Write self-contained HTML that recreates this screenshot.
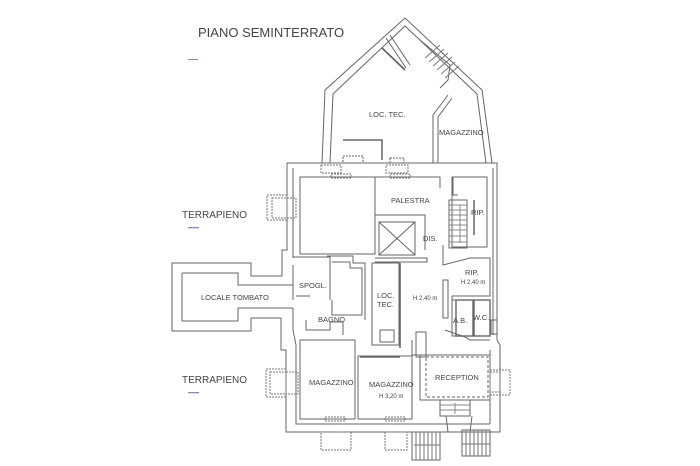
<!DOCTYPE html>
<html><head><meta charset="utf-8"><style>
html,body{margin:0;padding:0;background:#fff;width:700px;height:466px;overflow:hidden}
svg{display:block}
text{font-family:"Liberation Sans",sans-serif;fill:#444}
</style></head><body>
<svg width="700" height="466" viewBox="0 0 700 466" xmlns="http://www.w3.org/2000/svg">
<g fill="none" stroke="#666" stroke-width="1">
<polyline points="322,163 325,90 405,18 482,90 492,163"/>
<polyline points="330,163 333,94 405,26 477,94 486,163"/>
<polyline points="433,163 433,115 448,95"/>
<polyline points="438,163 438,117 452,98"/>
<line x1="386" y1="38" x2="406" y2="68"/>
<line x1="390" y1="35" x2="410" y2="65"/>
<line x1="382" y1="48" x2="405" y2="70" stroke-width="1.8"/>
<polyline points="420,40 450,65 448,80 440,88"/>
<g stroke="#777"><line x1="425" y1="58" x2="440" y2="45"/><line x1="429" y1="62" x2="444" y2="49"/><line x1="433" y1="66" x2="448" y2="53"/><line x1="437" y1="70" x2="452" y2="57"/><line x1="441" y1="74" x2="455" y2="62"/><line x1="445" y1="78" x2="459" y2="66"/></g>
<polyline points="343,140 382,140 382,160" stroke-width="1.5"/>
<rect x="343" y="156" width="20" height="7" stroke-dasharray="2,1"/>
<rect x="390" y="158" width="14" height="5" stroke-dasharray="2,1"/>
<polyline points="287,163 497,163 497,340 500,345 500,432 412,432"/>
<polyline points="287,163 287,250 282,250 282,276 251,276 251,263 172,263 172,331 251,331 251,318 281,318 281,350 286,350 286,432 412,432"/>
<polyline points="293,168 293,258"/>
<polyline points="293,265 293,300"/>
<polyline points="293,308 293,330 296,345 296,424 490,424"/>
<line x1="493" y1="168" x2="493" y2="335"/>
<line x1="490" y1="350" x2="490" y2="424"/>
<polyline points="182,273 238,273 238,285 293,285"/>
<polyline points="293,308 238,308 238,321 182,321 182,273"/>
<rect x="300" y="177" width="75" height="77"/>
<polyline points="375,177 440,177 440,188"/>
<rect x="379" y="222" width="36" height="33"/>
<line x1="379" y1="222" x2="415" y2="255"/><line x1="415" y1="222" x2="379" y2="255"/>
<polyline points="375,215 425,215 425,250"/>
<polyline points="375,258 427,258 427,262 375,262"/>
<polyline points="453,177 453,195 458,195"/>
<rect x="452" y="177" width="35" height="70"/>
<rect x="449" y="200" width="18" height="48"/>
<g stroke="#888"><line x1="449" y1="205" x2="467" y2="205"/><line x1="449" y1="210" x2="467" y2="210"/><line x1="449" y1="215" x2="467" y2="215"/><line x1="449" y1="220" x2="467" y2="220"/><line x1="449" y1="225" x2="467" y2="225"/><line x1="449" y1="230" x2="467" y2="230"/><line x1="449" y1="236" x2="467" y2="236"/><line x1="449" y1="242" x2="467" y2="242"/><line x1="460" y1="243" x2="460" y2="205"/></g>
<line x1="474" y1="200" x2="474" y2="235" stroke-width="1.5"/>
<polyline points="443,245 443,265 470,258 490,258 490,296 452,296 452,312"/>
<rect x="452" y="300" width="38" height="36"/>
<rect x="443" y="280" width="5" height="38"/>
<rect x="456" y="300" width="17" height="36" stroke-width="1.4"/>
<rect x="474" y="300" width="16" height="36" stroke-width="1.4"/>
<polyline points="445,330 465,337 470,340 490,340"/>
<rect x="491" y="320" width="6" height="14"/>
<rect x="372" y="263" width="27" height="82"/>
<line x1="400" y1="263" x2="400" y2="348" stroke-width="1.6"/>
<polyline points="293,257 330,257 330,300"/>
<polyline points="327,256 353,256 353,263 365,263 365,320"/>
<polyline points="332,262 350,262 350,268 362,268 362,315 332,315 332,300"/>
<polyline points="296,296 310,296"/>
<polyline points="306,320 306,330 330,330 330,322 343,322 343,335"/>
<rect x="380" y="330" width="14" height="12"/>
<rect x="300" y="340" width="55" height="79"/>
<rect x="358" y="356" width="54" height="63"/>
<line x1="360" y1="357" x2="400" y2="357" stroke-width="1.6"/>
<polyline points="412,340 412,355 420,355"/>
<rect x="416" y="332" width="10" height="25"/>
<rect x="420" y="355" width="70" height="45"/>
<rect x="426" y="357" width="62" height="40" stroke-dasharray="3,2"/>
<rect x="440" y="400" width="30" height="16"/>
<g stroke="#888"><line x1="440" y1="405" x2="470" y2="405"/><line x1="440" y1="410" x2="470" y2="410"/><line x1="455" y1="403" x2="455" y2="414"/></g>
<polyline points="446,416 448,432 470,432 472,416"/>
<rect x="412" y="432" width="28" height="28"/>
<rect x="462" y="430" width="28" height="26"/>
<g stroke="#777">
<line x1="416" y1="432" x2="416" y2="460"/><line x1="420" y1="432" x2="420" y2="460"/><line x1="424" y1="432" x2="424" y2="460"/><line x1="428" y1="432" x2="428" y2="460"/><line x1="432" y1="432" x2="432" y2="460"/><line x1="436" y1="432" x2="436" y2="460"/>
<line x1="466" y1="430" x2="466" y2="456"/><line x1="470" y1="430" x2="470" y2="456"/><line x1="474" y1="430" x2="474" y2="456"/><line x1="478" y1="430" x2="478" y2="456"/><line x1="482" y1="430" x2="482" y2="456"/><line x1="486" y1="430" x2="486" y2="456"/>
<line x1="414" y1="445" x2="440" y2="445"/><line x1="462" y1="444" x2="490" y2="444"/>
</g>
<g stroke-dasharray="2,1" stroke="#777">
<rect x="267" y="195" width="20" height="25"/><rect x="272" y="198" width="15" height="20"/><rect x="287" y="198" width="9" height="20"/>
<rect x="266" y="369" width="20" height="28"/><rect x="270" y="372" width="16" height="22"/><rect x="286" y="372" width="12" height="22"/>
<rect x="321" y="432" width="30" height="18"/><rect x="385" y="432" width="22" height="18"/>
<rect x="490" y="370" width="20" height="25"/><rect x="490" y="372" width="10" height="20"/>
<rect x="321" y="165" width="20" height="8"/><rect x="386" y="165" width="22" height="8"/>
<rect x="331" y="174" width="20" height="4"/><rect x="390" y="174" width="20" height="4"/>
<rect x="325" y="417" width="20" height="4"/><rect x="385" y="417" width="20" height="4"/>
</g>
</g>
<g fill="#8888aa"><rect x="188" y="59" width="10" height="1"/><rect x="188" y="227" width="11" height="1.3"/><rect x="188" y="392" width="11" height="1.3"/></g>
<text x="198" y="37" font-size="13">PIANO SEMINTERRATO</text>
<text x="182" y="218" font-size="10">TERRAPIENO</text>
<text x="182" y="383" font-size="10">TERRAPIENO</text>
<g font-size="7.5">
<text x="369" y="117">LOC. TEC.</text>
<text x="439" y="135">MAGAZZINO</text>
<text x="391" y="203">PALESTRA</text>
<text x="471" y="215">RIP.</text>
<text x="423" y="241">DIS.</text>
<text x="465" y="275">RIP.</text>
<text x="201" y="300">LOCALE TOMBATO</text>
<text x="299" y="288">SPOGL.</text>
<text x="377" y="298">LOC.</text>
<text x="377" y="307">TEC.</text>
<text x="318" y="322">BAGNO</text>
<text x="453" y="323">A.B.</text>
<text x="473" y="320">W.C.</text>
<text x="309" y="385">MAGAZZINO</text>
<text x="369" y="387">MAGAZZINO</text>
<text x="435" y="380">RECEPTION</text>
</g>
<g font-size="6">
<text x="461" y="284">H 2,40 m</text>
<text x="413" y="300">H 2,40 m</text>
<text x="379" y="398">H 3,20 m</text>
</g>
</svg>
</body></html>
